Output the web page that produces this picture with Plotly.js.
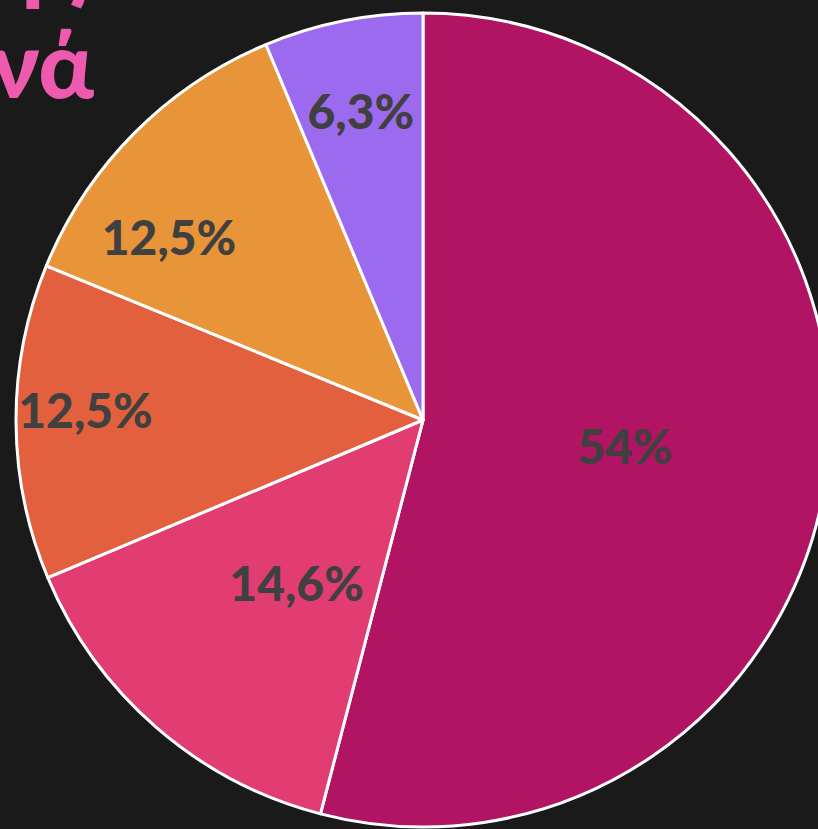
<!DOCTYPE html>
<html>
<head>
<meta charset="utf-8">
<script src="https://cdn.plot.ly/plotly-3.0.1.min.js"></script>
<style>
html,body{margin:0;padding:0;background:#1a1a1a;overflow:hidden;width:818px;height:829px;position:relative;}
#chart{position:absolute;left:-140px;top:-140px;width:1100px;height:1100px;}
</style>
</head>
<body>
<div id="chart"></div>
<script>
// Data
const categories = ["A", "B", "C", "D", "E"];
const values = [54, 14.6, 12.5, 12.5, 6.3];
const valueLabels = ["54%", "14,6%", "12,5%", "12,5%", "6,3%"];
const sliceColors = ["#b01463", "#e23d73", "#e2603d", "#e8953a", "#9b6aee"];
const titleLines = ["ης", "νά"];

// Layout geometry (px inside the plot div)
const S = 1100, OFF = 140;
const CX = 423 + OFF, CY = 420 + OFF, R = 407;
function dom(r) {
  return {x: [(CX - r) / S, (CX + r) / S], y: [1 - (CY + r) / S, 1 - (CY - r) / S]};
}
// Label placement: radius of a transparent helper pie carrying each slice's label, and its rotation
const labelPlacement = [
  {r: 407, rot: 0},
  {r: 297, rot: -3},
  {r: 467, rot: 2},
  {r: 433, rot: -9},
  {r: 378, rot: 0}
];
const labelFont = {family: "Lato, 'DejaVu Sans', sans-serif", size: 48, color: "#404040", weight: 900};

const traces = [{
  type: "pie",
  labels: categories,
  values: values,
  textinfo: "none",
  sort: false,
  direction: "clockwise",
  rotation: 0,
  marker: {colors: sliceColors, line: {color: "#ffffff", width: 3}},
  domain: dom(R),
  showlegend: false,
  hoverinfo: "none"
}];

labelPlacement.forEach((p, i) => {
  traces.push({
    type: "pie",
    labels: categories,
    values: values,
    text: valueLabels.map((t, j) => (j === i ? t : "")),
    texttemplate: "%{text}",
    textinfo: "text",
    textposition: "inside",
    insidetextorientation: "horizontal",
    sort: false,
    direction: "clockwise",
    rotation: p.rot,
    marker: {colors: categories.map(() => "rgba(0,0,0,0)"), line: {width: 0}},
    textfont: labelFont,
    domain: dom(p.r),
    showlegend: false,
    hoverinfo: "none"
  });
});

const layout = {
  width: S,
  height: S,
  margin: {l: 0, r: 0, t: 0, b: 0},
  paper_bgcolor: "#1a1a1a",
  plot_bgcolor: "#1a1a1a",
  showlegend: false,
  annotations: [
    {
      xref: "paper", yref: "paper",
      x: (OFF + 90) / S, y: 1 - (OFF + 16) / S,
      xanchor: "right", yanchor: "bottom",
      text: titleLines[0],
      showarrow: false,
      font: {family: "Lato, sans-serif", size: 92, color: "#ee5aae", weight: 900}
    },
    {
      xref: "paper", yref: "paper",
      x: (OFF + 96) / S, y: 1 - (OFF + 120) / S,
      xanchor: "right", yanchor: "bottom",
      text: titleLines[1],
      showarrow: false,
      font: {family: "Lato, sans-serif", size: 92, color: "#ee5aae", weight: 900}
    }
  ]
};

Plotly.newPlot("chart", traces, layout, {displayModeBar: false, staticPlot: true});
</script>
</body>
</html>
